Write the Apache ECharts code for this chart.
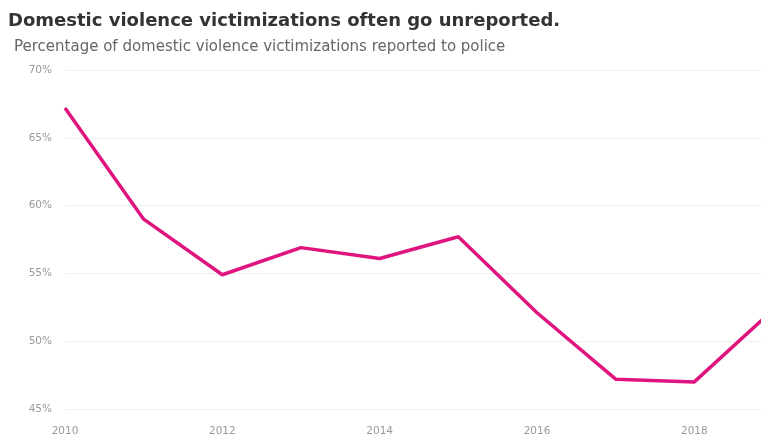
<!DOCTYPE html>
<html>
<head>
<meta charset="utf-8">
<script src="https://cdn.jsdelivr.net/npm/echarts@6/dist/echarts.min.js"></script>
<style>
  html, body { margin: 0; padding: 0; background: #fff; }
  #chart { width: 761px; height: 438px; }
</style>
</head>
<body>
<div id="chart"></div>
<script>
// Share of domestic violence victimizations reported to police, by year
const years = ['2010', '2011', '2012', '2013', '2014', '2015', '2016', '2017', '2018', '2019'];
const reportedPct = [67.2, 59.0, 54.9, 56.9, 56.1, 57.7, 52.1, 47.2, 47.0, 52.3];
const yTicks = { min: 45, max: 70, step: 5 };

const chart = echarts.init(document.getElementById('chart'));
chart.setOption({
  backgroundColor: '#fff',
  animation: false,
  title: [{
    text: 'Domestic violence victimizations often go unreported.',
    left: 3,
    top: 7,
    textStyle: { fontFamily: 'DejaVu Sans', fontWeight: 'bold', fontSize: 18, color: '#333' }
  }, {
    text: 'Percentage of domestic violence victimizations reported to police',
    left: 9,
    top: 35,
    textStyle: { fontFamily: 'DejaVu Sans', fontWeight: 'normal', fontSize: 15, color: '#666' }
  }],
  grid: { left: 65, width: 708, top: 70, bottom: 29, outerBoundsMode: 'none', containLabel: false },
  xAxis: {
    type: 'category',
    data: years,
    boundaryGap: false,
    axisLine: { show: false },
    axisTick: { show: false },
    axisLabel: { interval: 1, color: '#999', fontFamily: 'DejaVu Sans', fontSize: 10.5, margin: 17 }
  },
  yAxis: {
    type: 'value',
    min: yTicks.min,
    max: yTicks.max,
    interval: yTicks.step,
    axisLine: { show: false },
    axisTick: { show: false },
    splitLine: { lineStyle: { color: '#efefef', width: 1 } },
    axisLabel: { formatter: '{value}%', color: '#999', fontFamily: 'DejaVu Sans', fontSize: 10.5, margin: 13 }
  },
  series: [{
    type: 'line',
    data: reportedPct,
    symbol: 'none',
    lineStyle: { color: '#e0147f', width: 3.5 }
  }]
});
</script>
</body>
</html>
